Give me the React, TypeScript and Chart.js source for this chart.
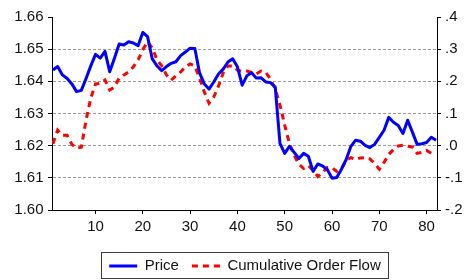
import React, { useEffect, useRef } from "react";
import { Chart, registerables } from "chart.js";

Chart.register(...registerables);

const observations = [
  1, 2, 3, 4, 5, 6, 7, 8, 9, 10, 11, 12, 13, 14, 15, 16, 17, 18, 19, 20,
  21, 22, 23, 24, 25, 26, 27, 28, 29, 30, 31, 32, 33, 34, 35, 36, 37, 38, 39, 40,
  41, 42, 43, 44, 45, 46, 47, 48, 49, 50, 51, 52, 53, 54, 55, 56, 57, 58, 59, 60,
  61, 62, 63, 64, 65, 66, 67, 68, 69, 70, 71, 72, 73, 74, 75, 76, 77, 78, 79, 80,
  81, 82,
];

const price = [
  1.6435, 1.6446, 1.642, 1.6409, 1.6392, 1.6368, 1.6372, 1.6409, 1.6448, 1.6484,
  1.6472, 1.6493, 1.643, 1.6472, 1.6516, 1.6513, 1.6523, 1.6519, 1.6511, 1.6552,
  1.6539, 1.647, 1.6448, 1.6433, 1.6446, 1.6456, 1.6461, 1.648, 1.6491, 1.6503,
  1.6502, 1.6426, 1.6392, 1.6376, 1.6398, 1.6423, 1.6438, 1.646, 1.647, 1.6445,
  1.6388, 1.6417, 1.6427, 1.641, 1.6411, 1.6398, 1.6396, 1.6382, 1.6207, 1.6176,
  1.6198, 1.6179, 1.616, 1.6176, 1.6167, 1.612, 1.6143, 1.6137, 1.6126, 1.6099,
  1.6101, 1.6127, 1.6157, 1.6198, 1.6217, 1.6214, 1.6201, 1.6194, 1.6204, 1.6226,
  1.6248, 1.6288, 1.6273, 1.6263, 1.6238, 1.6279, 1.6242, 1.6204, 1.6206, 1.621,
  1.6226, 1.6217,
];

const orderFlow = [
  0.006, 0.048, 0.032, 0.032, 0.004, -0.008, -0.005, 0.079, 0.148, 0.192,
  0.194, 0.204, 0.173, 0.182, 0.21, 0.22, 0.229, 0.245, 0.267, 0.298,
  0.323, 0.304, 0.267, 0.248, 0.22, 0.204, 0.217, 0.229, 0.245, 0.254,
  0.248, 0.21, 0.167, 0.132, 0.151, 0.185, 0.226, 0.248, 0.248, 0.235,
  0.231, 0.232, 0.228, 0.223, 0.232, 0.228, 0.207, 0.176, 0.126, 0.064,
  0.007, -0.03, -0.058, -0.071, -0.062, -0.077, -0.096, -0.084, -0.068, -0.068,
  -0.08, -0.071, -0.046, -0.037, -0.043, -0.038, -0.037, -0.041, -0.055, -0.073,
  -0.052, -0.027, -0.012, -0.001, 0.001, -0.002, -0.004, -0.024, -0.021, -0.015,
  -0.024, -0.025,
];

const seriesNames = ["Price", "Cumulative Order Flow"];
const xTicks = [10, 20, 30, 40, 50, 60, 70, 80];
const leftTicks = [1.6, 1.61, 1.62, 1.63, 1.64, 1.65, 1.66];
const leftTickLabels = ["1.60", "1.61", "1.62", "1.63", "1.64", "1.65", "1.66"];
const rightTicks = [-0.2, -0.1, 0, 0.1, 0.2, 0.3, 0.4];
const rightTickLabels = ["-.2", "-.1", ".0", ".1", ".2", ".3", ".4"];

const FONT = "'Liberation Sans', Arial, Helvetica, sans-serif";
const TEXT = "#111111";

function labelFor(values: number[], labels: string[], v: number): string {
  const i = values.findIndex((t) => Math.abs(t - v) < 1e-9);
  return i >= 0 ? labels[i] : "";
}

const legendFrame = {
  id: "legendFrame",
  afterUpdate(chart: any) {
    const lg = chart.legend;
    if (!lg) return;
    // centre the legend under the plot area instead of the whole canvas
    const newLeft = chart.chartArea.left - 26;
    const shift = (newLeft - lg.left) / 2;
    lg.left = newLeft;
    lg.width = lg.right - lg.left;
    (lg.legendHitBoxes || []).forEach((h: any) => {
      h.left += shift;
    });
  },
  afterDraw(chart: any) {
    const lg = chart.legend;
    if (!lg || !lg.legendHitBoxes || !lg.legendHitBoxes.length) return;
    const hb = lg.legendHitBoxes;
    const first = hb[0];
    const last = hb[hb.length - 1];
    const cy = first.top + first.height / 2;
    const x0 = Math.round(first.left - 8) + 0.5;
    const x1 = Math.round(last.left + last.width + 7) + 0.5;
    const y0 = Math.round(cy - 14.3) + 0.5;
    const y1 = Math.round(cy + 12.3) + 0.5;
    const ctx = chart.ctx;
    ctx.save();
    ctx.strokeStyle = "#3a3a3a";
    ctx.lineWidth = 1;
    ctx.setLineDash([]);
    ctx.strokeRect(x0, y0, x1 - x0, y1 - y0);
    ctx.restore();
  },
};

export default function App() {
  const ref = useRef<HTMLCanvasElement | null>(null);

  useEffect(() => {
    if (!ref.current) return;
    const chart = new Chart(ref.current, {
      type: "line",
      data: {
        datasets: [
          {
            label: seriesNames[0],
            data: observations.map((x, i) => ({ x, y: price[i] })),
            yAxisID: "y",
            borderColor: "#0000ff",
            backgroundColor: "#0000ff",
            borderWidth: 3,
            borderJoinStyle: "round",
            pointRadius: 0,
            tension: 0,
            fill: false,
          },
          {
            label: seriesNames[1],
            data: observations.map((x, i) => ({ x, y: orderFlow[i] })),
            yAxisID: "y1",
            borderColor: "#ff0000",
            backgroundColor: "#ff0000",
            borderWidth: 3,
            borderDash: [6, 5],
            pointRadius: 0,
            tension: 0,
            fill: false,
          },
        ],
      },
      options: {
        animation: false,
        responsive: false,
        devicePixelRatio: 1,
        layout: { padding: { left: 0, top: 17, right: 0, bottom: -3.5 } },
        plugins: {
          tooltip: { enabled: false },
          legend: {
            display: true,
            position: "bottom",
            align: "center",
            labels: {
              usePointStyle: true,
              pointStyleWidth: 28,
              boxWidth: 28,
              padding: 13,
              color: TEXT,
              font: { family: FONT, size: 15 },
              generateLabels: (c: any) =>
                c.data.datasets.map((ds: any, i: number) => ({
                  text: ds.label,
                  fillStyle: ds.borderColor,
                  strokeStyle: ds.borderColor,
                  lineWidth: 3,
                  lineDash: ds.borderDash || [],
                  lineCap: "butt",
                  pointStyle: "line",
                  hidden: false,
                  datasetIndex: i,
                  fontColor: TEXT,
                })),
            },
          },
        },
        scales: {
          x: {
            type: "linear",
            min: 0.8,
            max: 82.2,
            afterBuildTicks: (s: any) => {
              s.ticks = xTicks.map((v) => ({ value: v }));
            },
            afterFit: (s: any) => {
              s.height = 35.5;
            },
            ticks: {
              color: TEXT,
              font: { family: FONT, size: 15 },
              padding: 4,
              maxRotation: 0,
              autoSkip: false,
              callback: (v: any) => String(v),
            },
            grid: {
              drawOnChartArea: false,
              drawTicks: true,
              tickLength: 4,
              tickColor: "#000",
              color: "#000",
            },
            border: { display: true, color: "#000", width: 1 },
          },
          y: {
            type: "linear",
            position: "left",
            min: 1.6,
            max: 1.66,
            afterBuildTicks: (s: any) => {
              s.ticks = leftTicks.map((v) => ({ value: v }));
            },
            afterFit: (s: any) => {
              s.width = 52;
            },
            ticks: {
              color: TEXT,
              font: { family: FONT, size: 15 },
              padding: 4.5,
              autoSkip: false,
              callback: (v: any) => labelFor(leftTicks, leftTickLabels, Number(v)),
            },
            grid: {
              drawOnChartArea: true,
              drawTicks: true,
              tickLength: 4,
              tickColor: "#000",
              tickBorderDash: [],
              lineWidth: 1,
              color: (ctx: any) =>
                ctx.index === 0 || ctx.index === leftTicks.length - 1
                  ? "rgba(0,0,0,0)"
                  : "#9a9a9a",
            },
            border: { display: true, color: "#000", width: 1, dash: [3, 2] },
          },
          y1: {
            type: "linear",
            position: "right",
            min: -0.2,
            max: 0.4,
            afterBuildTicks: (s: any) => {
              s.ticks = rightTicks.map((v) => ({ value: v }));
            },
            afterFit: (s: any) => {
              s.width = 27;
            },
            ticks: {
              color: TEXT,
              font: { family: FONT, size: 15 },
              padding: 4,
              autoSkip: false,
              callback: (v: any) => labelFor(rightTicks, rightTickLabels, Number(v)),
            },
            grid: {
              drawOnChartArea: false,
              drawTicks: true,
              tickLength: 4,
              tickColor: "#000",
              color: "#000",
            },
            border: { display: true, color: "#000", width: 1 },
          },
        },
      } as any,
      plugins: [legendFrame],
    });
    return () => chart.destroy();
  }, []);

  return (
    <div style={{ position: "fixed", left: 0, top: 0, width: 464, height: 280, background: "#fff" }}>
      <canvas ref={ref} width={464} height={280} style={{ display: "block", width: 464, height: 280 }} />
    </div>
  );
}
